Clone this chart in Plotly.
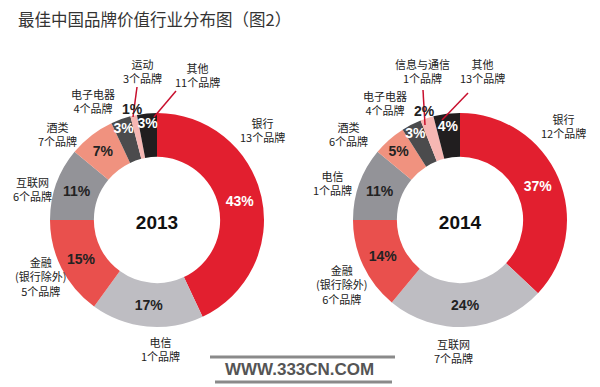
import math
import plotly.graph_objects as go

# ---- data ----
cats_2013 = ["银行", "电信", "金融", "互联网", "酒类", "电子电器", "运动", "其他"]
vals_2013 = [43, 17, 15, 11, 7, 3, 1, 3]
brands_2013 = ["13个品牌", "1个品牌", "(银行除外)<br>5个品牌", "6个品牌", "7个品牌", "4个品牌", "3个品牌", "11个品牌"]

cats_2014 = ["银行", "互联网", "金融", "电信", "酒类", "电子电器", "信息与通信", "其他"]
vals_2014 = [37, 24, 14, 11, 5, 3, 2, 4]
brands_2014 = ["12个品牌", "7个品牌", "(银行除外)<br>6个品牌", "1个品牌", "6个品牌", "4个品牌", "1个品牌", "13个品牌"]

years = ["2013", "2014"]

# ---- styles ----
RED = "#e21f2f"
LGRAY = "#bebdc2"
SALMON = "#e9504d"
GRAY = "#939398"
LSALMON = "#f0927f"
DGRAY = "#4b4b4d"
PINK = "#f6b7b3"
BLACK = "#211e1f"
TXT = "#222222"

colors_2013 = [RED, LGRAY, SALMON, GRAY, LSALMON, DGRAY, PINK, BLACK]
colors_2014 = [RED, LGRAY, SALMON, GRAY, LSALMON, DGRAY, PINK, BLACK]
tcol_2013 = ["white", TXT, TXT, TXT, TXT, "white", TXT, "white"]
tcol_2014 = ["white", TXT, TXT, TXT, TXT, "white", TXT, "white"]

W, H = 600, 387


def px(x):
    return x / W


def py(y):
    return 1 - y / H


fig = go.Figure()
annotations = []


def add_pie(vals, cats, colors, tcols, cx, cy, r, year, small_idx, r_lab):
    texts = ["" if i == small_idx else f"{v}%" for i, v in enumerate(vals)]
    fig.add_trace(go.Pie(
        values=vals,
        labels=cats,
        text=texts,
        textinfo="text",
        textposition="inside",
        insidetextorientation="horizontal",
        sort=False,
        direction="clockwise",
        rotation=0,
        hole=0.59,
        marker=dict(colors=colors, line=dict(width=0)),
        textfont=dict(family="Liberation Sans", size=14, color=tcols, weight="bold"),
        domain=dict(x=[px(cx - r), px(cx + r)], y=[py(cy + r), py(cy - r)]),
        title=dict(text=year, position="middle center",
                   font=dict(family="Liberation Sans", size=19, color="#111", weight="bold")),
        showlegend=False,
        hoverinfo="label+percent",
    ))
    # label of the thin slice, placed just outside the ring at the slice's mid-angle
    total = sum(vals)
    mid = (sum(vals[:small_idx]) + vals[small_idx] / 2) / total * 2 * math.pi
    lx = cx + r_lab * math.sin(mid)
    ly = cy - r_lab * math.cos(mid)
    annotations.append(dict(
        x=px(lx), y=py(ly), xref="paper", yref="paper",
        text=f"{vals[small_idx]}%", showarrow=False,
        xanchor="center", yanchor="middle",
        font=dict(family="Liberation Sans", size=14, color=TXT, weight="bold"),
    ))


add_pie(vals_2013, cats_2013, colors_2013, tcol_2013, 157, 220, 107, years[0], 6, 114)
add_pie(vals_2014, cats_2014, colors_2014, tcol_2014, 460, 220, 107, years[1], 6, 115)

# category labels (text-block centers in pixels)
lab_pos_2013 = [(262, 130), (160, 349), (40, 276), (32, 189), (57, 134), (93, 101), (142, 71), (197, 75)]
lab_pos_2014 = [(563, 126), (453, 351), (342, 284), (332, 183), (348, 134), (385, 103), (422, 71), (482, 71)]

for cats, brands, poss in [(cats_2013, brands_2013, lab_pos_2013), (cats_2014, brands_2014, lab_pos_2014)]:
    for c, b, (x, y) in zip(cats, brands, poss):
        annotations.append(dict(
            x=px(x), y=py(y), xref="paper", yref="paper",
            text=f"{c}<br>{b}", showarrow=False, align="center",
            font=dict(family="Noto Sans CJK SC", size=11, color=TXT),
            xanchor="center", yanchor="middle",
        ))

annotations.append(dict(
    x=px(16), y=py(19), xref="paper", yref="paper",
    text="最佳中国品牌价值行业分布图（图2）", showarrow=False,
    xanchor="left", yanchor="middle",
    font=dict(family="Noto Sans CJK SC", size=16.5, color="#333333"),
))
annotations.append(dict(
    x=px(299), y=py(369), xref="paper", yref="paper",
    text="WWW.333CN.COM", showarrow=False,
    xanchor="center", yanchor="middle",
    font=dict(family="Liberation Sans", size=17, color="#555555", weight="bold"),
))

shapes = []
leaders = [((137, 87), (133, 117)), ((176, 91), (154, 117)),
           ((423, 90), (425, 125)), ((468, 93), (442, 120))]
for (x0, y0), (x1, y1) in leaders:
    shapes.append(dict(type="line", xref="paper", yref="paper",
                       x0=px(x0), y0=py(y0), x1=px(x1), y1=py(y1),
                       line=dict(color="#c8102e", width=1.5)))
for (x0, x1, y, w) in [(210, 395, 357, 3), (215, 392, 382, 3)]:
    shapes.append(dict(type="line", xref="paper", yref="paper",
                       x0=px(x0), y0=py(y), x1=px(x1), y1=py(y),
                       line=dict(color="#8a8a8a", width=w)))

fig.update_layout(
    width=W, height=H,
    margin=dict(l=0, r=0, t=0, b=0),
    paper_bgcolor="white", plot_bgcolor="white",
    uniformtext=dict(minsize=14, mode="show"),
    annotations=annotations,
    shapes=shapes,
)

fig.write_html("out.html", config={"displayModeBar": False},
               post_script="document.body.style.margin='0';")
